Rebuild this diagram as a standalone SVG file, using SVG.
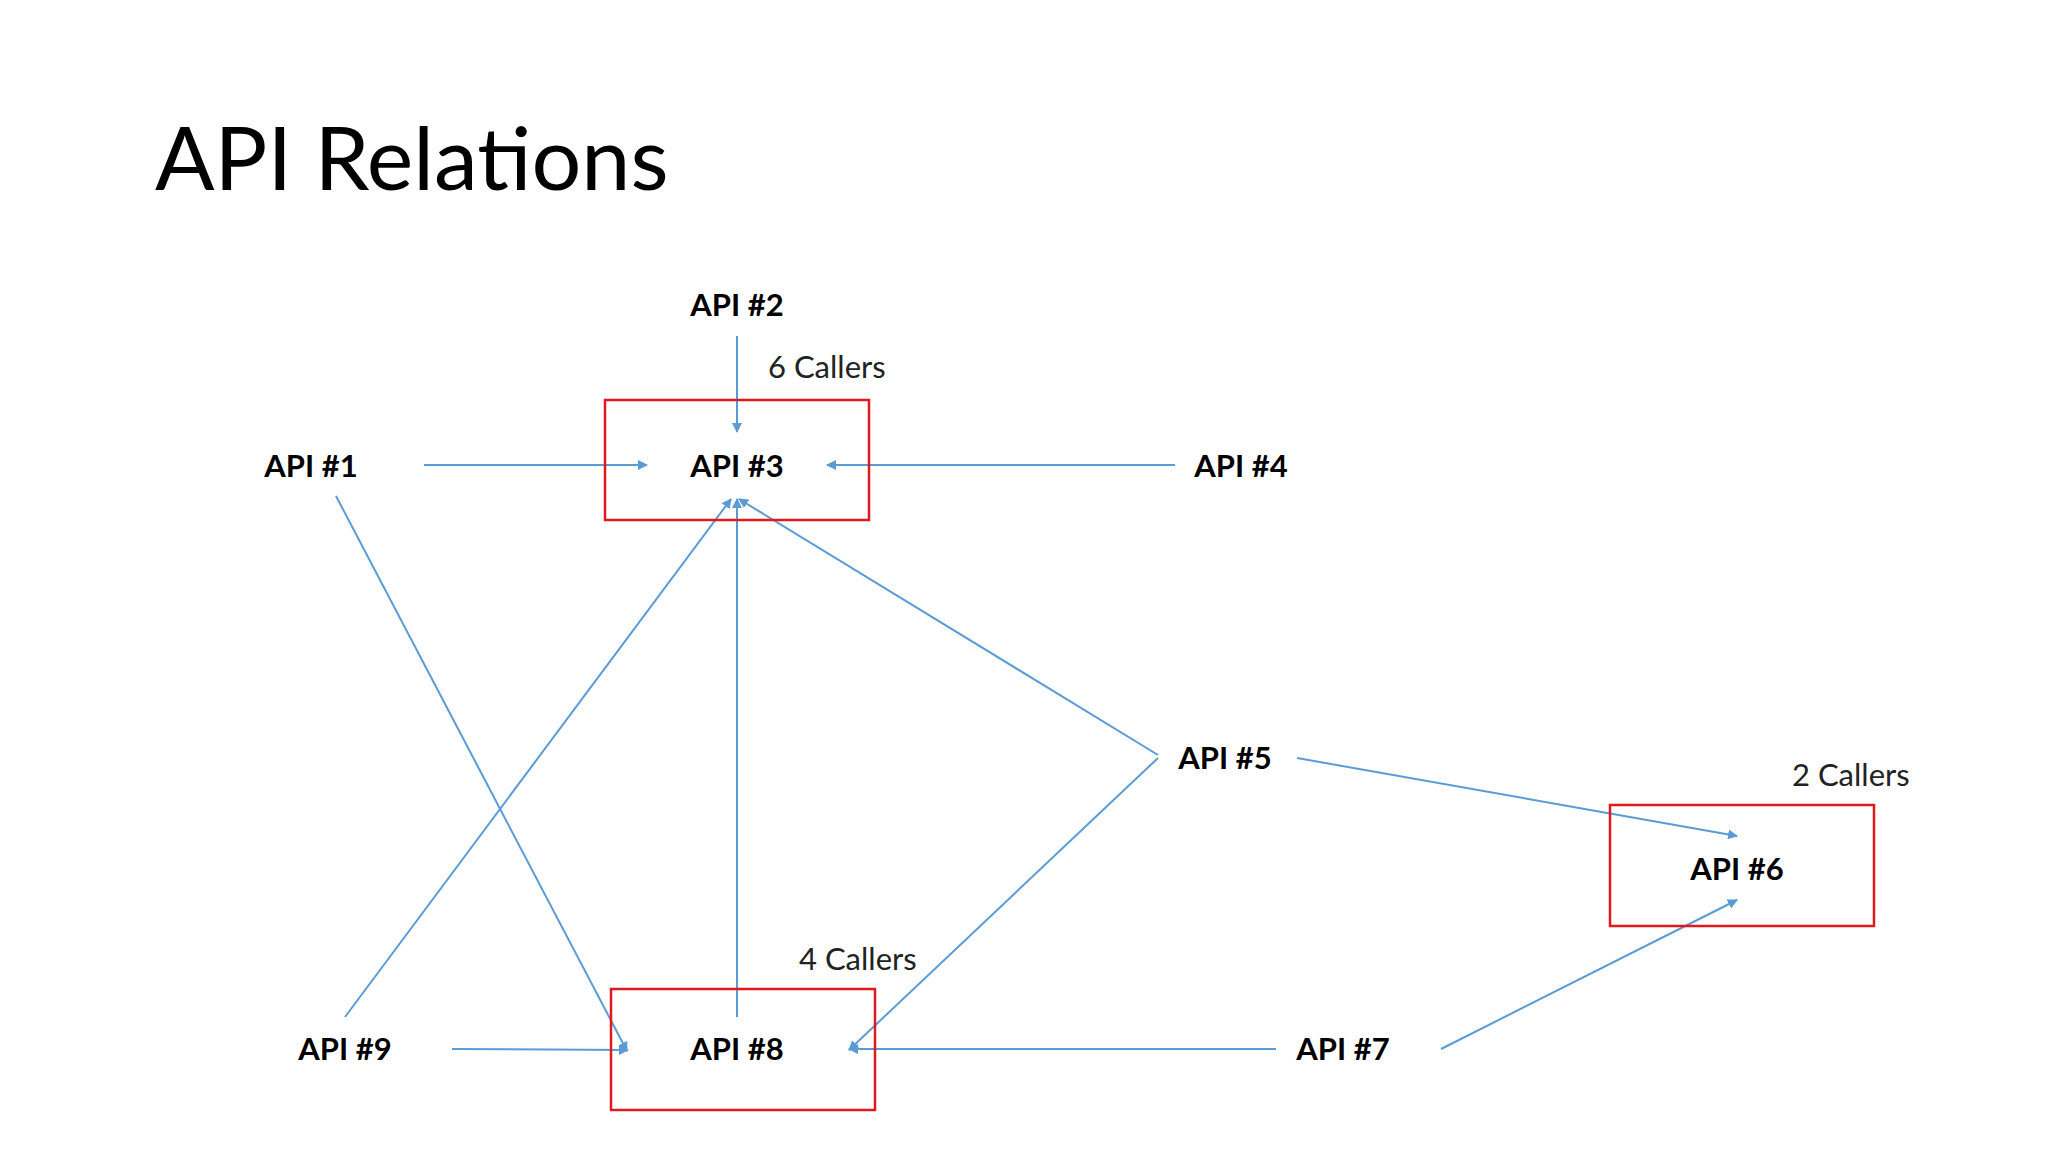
<svg xmlns="http://www.w3.org/2000/svg" width="2048" height="1152" viewBox="0 0 2048 1152">
<style>
.t{font-family:Lato,"Liberation Sans",sans-serif;font-weight:bold;font-size:31px;fill:#000;text-anchor:middle}
.c{font-family:Lato,"Liberation Sans",sans-serif;font-size:31px;fill:#222}
.b{fill:none;stroke:#E0191E;stroke-width:2.5}
#edges line{stroke:#5B9BD5;stroke-width:2;marker-end:url(#a)}
</style>
<defs><marker id="a" viewBox="0 0 10 10" refX="9" refY="5" markerWidth="5" markerHeight="5" orient="auto"><path d="M0,0L10,5L0,10z" fill="#5B9BD5"/></marker></defs>
<rect width="2048" height="1152" fill="#fff"/>
<text x="155" y="190" font-family="Lato,'Liberation Sans',sans-serif" font-size="88" fill="#000">API Relations</text>
<g id="edges">
<line x1="737" y1="336" x2="737" y2="432"/>
<line x1="424" y1="465" x2="647" y2="465"/>
<line x1="1175" y1="465" x2="827" y2="465"/>
<line x1="336" y1="496" x2="627" y2="1051"/>
<line x1="345" y1="1017" x2="731" y2="499"/>
<line x1="737" y1="1017" x2="737" y2="499"/>
<line x1="1158" y1="755" x2="739" y2="499"/>
<line x1="1158" y1="758" x2="849" y2="1050"/>
<line x1="1297" y1="758" x2="1737" y2="836"/>
<line x1="452" y1="1049" x2="628" y2="1050"/>
<line x1="1276" y1="1049" x2="849" y2="1049"/>
<line x1="1441" y1="1049" x2="1737" y2="900"/>
</g>
<g id="n2"><text class="t" x="737" y="316">API #2</text></g>
<g id="n1"><text class="t" x="311" y="477">API #1</text></g>
<g id="n3"><rect class="b" x="605" y="400" width="264" height="120"/><text class="t" x="737" y="477">API #3</text><text class="c" x="768" y="378">6 Callers</text></g>
<g id="n4"><text class="t" x="1241" y="477">API #4</text></g>
<g id="n5"><text class="t" x="1225" y="769">API #5</text></g>
<g id="n6"><rect class="b" x="1610" y="805" width="264" height="121"/><text class="t" x="1737" y="880">API #6</text><text class="c" x="1792" y="786">2 Callers</text></g>
<g id="n9"><text class="t" x="345" y="1060">API #9</text></g>
<g id="n8"><rect class="b" x="611" y="989" width="264" height="121"/><text class="t" x="737" y="1060">API #8</text><text class="c" x="799" y="970">4 Callers</text></g>
<g id="n7"><text class="t" x="1343" y="1060">API #7</text></g>
</svg>
